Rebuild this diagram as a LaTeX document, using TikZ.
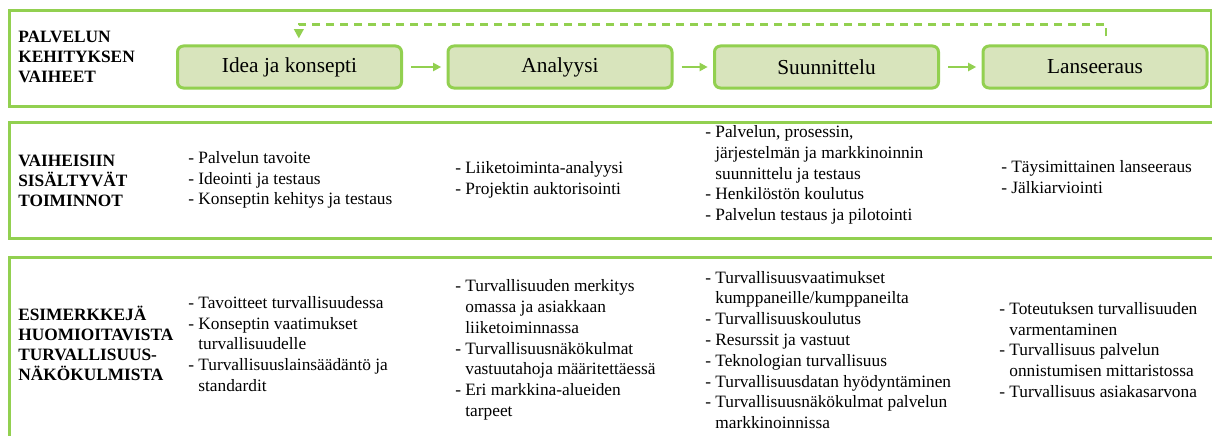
\documentclass[tikz,border=0pt]{standalone}
\usepackage{fontspec}
\setmainfont{Liberation Serif}
\usetikzlibrary{arrows.meta}
\definecolor{grn}{RGB}{146,208,80}
\definecolor{lgrn}{RGB}{216,228,188}
\newcommand{\cont}{\hphantom{- }}

\begin{document}
\begin{tikzpicture}[x=0.75pt,y=-0.75pt,
    panel/.style={draw=grn,line width=2.25pt},
    stage/.style={draw=grn,fill=lgrn,line width=2.25pt,rounded corners=4.5pt,
        minimum width=168pt,minimum height=31.5pt,font=\fontsize{16}{19}\selectfont},
    head/.style={anchor=west,align=left,inner sep=0pt,font=\bfseries\fontsize{13}{15}\selectfont},
    txt/.style={anchor=west,align=left,inner sep=0pt,font=\fontsize{13}{15.6}\selectfont},
    arr/.style={draw=grn,line width=1.5pt,-{Triangle[length=6pt,width=6pt]},shorten <=6pt,shorten >=4pt},
    fb/.style={draw=grn,line width=1.8pt,dash pattern=on 6pt off 4.5pt,-{Triangle[length=7pt,width=7pt]}}]
    \useasboundingbox (0,0) rectangle (1212,435);
    \clip (0,0) rectangle (1212,435);

    % panels
    \draw[panel] (9,11) rectangle (1211,106);
    \draw[panel] (9,122) rectangle (1218,238);
    \draw[panel] (9,445) -- (9,257) -- (1218,257);

    % phases
    \node[head] (lblphase) at (18,57) {PALVELUN\\KEHITYKSEN\\VAIHEET};
    \node[stage] (idea) at (289.5,67) {Idea ja konsepti};
    \node[stage] (analyysi) at (560,67) {Analyysi};
    \node[stage] (suunnittelu) at (826.5,67) {Suunnittelu};
    \node[stage] (lanseeraus) at (1095,67) {Lanseeraus};
    \draw[arr] (idea.east) -- (analyysi.west);
    \draw[arr] (analyysi.east) -- (suunnittelu.west);
    \draw[arr] (suunnittelu.east) -- (lanseeraus.west);
    \draw[fb] ([xshift=8.25pt,yshift=6pt]lanseeraus.north) -- ++(0,-12) -| ([xshift=7pt,yshift=4.5pt]idea.north);

    % activities
    \node[head] (lblact) at (18,181) {VAIHEISIIN\\SIS\"ALTYV\"AT\\TOIMINNOT};
    \node[txt] (act1) at (188,180) {- Palvelun tavoite\\- Ideointi ja testaus\\- Konseptin kehitys ja testaus};
    \node[txt] (act2) at (455,180) {- Liiketoiminta-analyysi\\- Projektin auktorisointi};
    \node[txt] (act3) at (705,175) {- Palvelun, prosessin,\\\cont j\"arjestelm\"an ja markkinoinnin\\\cont suunnittelu ja testaus\\- Henkil\"ost\"on koulutus\\- Palvelun testaus ja pilotointi};
    \node[txt] (act4) at (1001,177) {- T\"aysimittainen lanseeraus\\- J\"alkiarviointi};

    % security
    \node[head] (lblsec) at (18,343) {ESIMERKKEJ\"A\\HUOMIOITAVISTA\\TURVALLISUUS-\\N\"AK\"OKULMISTA};
    \node[txt] (sec1) at (188,344) {- Tavoitteet turvallisuudessa\\- Konseptin vaatimukset\\\cont turvallisuudelle\\- Turvallisuuslains\"a\"ad\"ant\"o ja\\\cont standardit};
    \node[txt] (sec2) at (455,350) {- Turvallisuuden merkitys\\\cont omassa ja asiakkaan\\\cont liiketoiminnassa\\- Turvallisuusn\"ak\"okulmat\\\cont vastuutahoja m\"a\"aritett\"aess\"a\\- Eri markkina-alueiden\\\cont tarpeet};
    \node[txt] (sec3) at (705,350) {- Turvallisuusvaatimukset\\\cont kumppaneille/kumppaneilta\\- Turvallisuuskoulutus\\- Resurssit ja vastuut\\- Teknologian turvallisuus\\- Turvallisuusdatan hy\"odynt\"aminen\\- Turvallisuusn\"ak\"okulmat palvelun\\\cont markkinoinnissa};
    \node[txt] (sec4) at (999,350) {- Toteutuksen turvallisuuden\\\cont varmentaminen\\- Turvallisuus palvelun\\\cont onnistumisen mittaristossa\\- Turvallisuus asiakasarvona};
\end{tikzpicture}
\end{document}
